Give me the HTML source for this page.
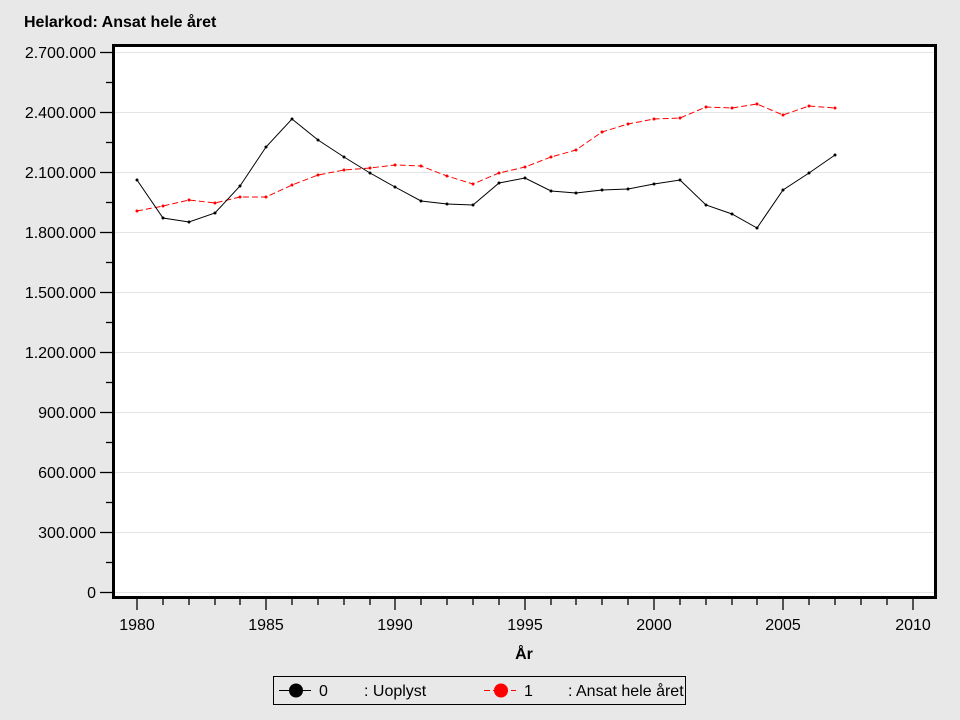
<!DOCTYPE html>
<html><head><meta charset="utf-8"><style>
html,body{margin:0;padding:0;background:#e8e8e8;}
svg{display:block;font-family:"Liberation Sans",Arial,sans-serif;}
</style></head><body>
<svg width="960" height="720" viewBox="0 0 960 720" xmlns="http://www.w3.org/2000/svg">
<rect width="960" height="720" fill="#e8e8e8"/>
<text x="24" y="27" font-size="16" font-weight="bold" fill="#000">Helarkod: Ansat hele året</text>
<rect x="113.5" y="45.5" width="822" height="552" fill="#fff"/>
<g stroke="#e4e4e4" stroke-width="1">
<line x1="115" x2="934" y1="52.5" y2="52.5"/><line x1="115" x2="934" y1="112.5" y2="112.5"/><line x1="115" x2="934" y1="172.5" y2="172.5"/><line x1="115" x2="934" y1="232.5" y2="232.5"/><line x1="115" x2="934" y1="292.5" y2="292.5"/><line x1="115" x2="934" y1="352.5" y2="352.5"/><line x1="115" x2="934" y1="412.5" y2="412.5"/><line x1="115" x2="934" y1="472.5" y2="472.5"/><line x1="115" x2="934" y1="532.5" y2="532.5"/><line x1="115" x2="934" y1="592.5" y2="592.5"/>
</g>
<g stroke="#000" stroke-width="1.3">
<line x1="100" x2="112" y1="52.5" y2="52.5"/><line x1="106" x2="112" y1="82.5" y2="82.5"/>
<line x1="100" x2="112" y1="112.5" y2="112.5"/><line x1="106" x2="112" y1="142.5" y2="142.5"/>
<line x1="100" x2="112" y1="172.5" y2="172.5"/><line x1="106" x2="112" y1="202.5" y2="202.5"/>
<line x1="100" x2="112" y1="232.5" y2="232.5"/><line x1="106" x2="112" y1="262.5" y2="262.5"/>
<line x1="100" x2="112" y1="292.5" y2="292.5"/><line x1="106" x2="112" y1="322.5" y2="322.5"/>
<line x1="100" x2="112" y1="352.5" y2="352.5"/><line x1="106" x2="112" y1="382.5" y2="382.5"/>
<line x1="100" x2="112" y1="412.5" y2="412.5"/><line x1="106" x2="112" y1="442.5" y2="442.5"/>
<line x1="100" x2="112" y1="472.5" y2="472.5"/><line x1="106" x2="112" y1="502.5" y2="502.5"/>
<line x1="100" x2="112" y1="532.5" y2="532.5"/><line x1="106" x2="112" y1="562.5" y2="562.5"/>
<line x1="100" x2="112" y1="592.5" y2="592.5"/>
</g>
<g font-size="16" fill="#000" text-anchor="end">
<text x="96" y="58">2.700.000</text><text x="96" y="118">2.400.000</text><text x="96" y="178">2.100.000</text><text x="96" y="238">1.800.000</text><text x="96" y="298">1.500.000</text><text x="96" y="358">1.200.000</text><text x="96" y="418">900.000</text><text x="96" y="478">600.000</text><text x="96" y="538">300.000</text><text x="96" y="598">0</text>
</g>
<g stroke="#000" stroke-width="1.3">
<line x1="137" x2="137" y1="599" y2="610"/><line x1="163" x2="163" y1="599" y2="605"/><line x1="189" x2="189" y1="599" y2="605"/><line x1="215" x2="215" y1="599" y2="605"/><line x1="240" x2="240" y1="599" y2="605"/>
<line x1="266" x2="266" y1="599" y2="610"/><line x1="292" x2="292" y1="599" y2="605"/><line x1="318" x2="318" y1="599" y2="605"/><line x1="344" x2="344" y1="599" y2="605"/><line x1="370" x2="370" y1="599" y2="605"/>
<line x1="395" x2="395" y1="599" y2="610"/><line x1="421" x2="421" y1="599" y2="605"/><line x1="447" x2="447" y1="599" y2="605"/><line x1="473" x2="473" y1="599" y2="605"/><line x1="499" x2="499" y1="599" y2="605"/>
<line x1="525" x2="525" y1="599" y2="610"/><line x1="551" x2="551" y1="599" y2="605"/><line x1="576" x2="576" y1="599" y2="605"/><line x1="602" x2="602" y1="599" y2="605"/><line x1="628" x2="628" y1="599" y2="605"/>
<line x1="654" x2="654" y1="599" y2="610"/><line x1="680" x2="680" y1="599" y2="605"/><line x1="706" x2="706" y1="599" y2="605"/><line x1="732" x2="732" y1="599" y2="605"/><line x1="757" x2="757" y1="599" y2="605"/>
<line x1="783" x2="783" y1="599" y2="610"/><line x1="809" x2="809" y1="599" y2="605"/><line x1="835" x2="835" y1="599" y2="605"/><line x1="861" x2="861" y1="599" y2="605"/><line x1="887" x2="887" y1="599" y2="605"/>
<line x1="913" x2="913" y1="599" y2="610"/>
</g>
<g font-size="16" fill="#000" text-anchor="middle">
<text x="137" y="630">1980</text><text x="266" y="630">1985</text><text x="395" y="630">1990</text><text x="525" y="630">1995</text><text x="654" y="630">2000</text><text x="783" y="630">2005</text><text x="913" y="630">2010</text>
</g>
<text x="524" y="659" font-size="16" font-weight="bold" text-anchor="middle">År</text>
<polyline fill="none" stroke="#f00" stroke-width="1" stroke-dasharray="6,3" points="137,211 163,206 189,200 215,203 240,197 266,197 292,185 318,175 344,170 370,168 395,165 421,166 447,176 473,184 499,173 525,167 551,157 576,150 602,132 628,124 654,119 680,118 706,107 732,108 757,104 783,115 809,106 835,108"/>
<g fill="#f00"><circle cx="137" cy="211" r="1.5"/><circle cx="163" cy="206" r="1.5"/><circle cx="189" cy="200" r="1.5"/><circle cx="215" cy="203" r="1.5"/><circle cx="240" cy="197" r="1.5"/><circle cx="266" cy="197" r="1.5"/><circle cx="292" cy="185" r="1.5"/><circle cx="318" cy="175" r="1.5"/><circle cx="344" cy="170" r="1.5"/><circle cx="370" cy="168" r="1.5"/><circle cx="395" cy="165" r="1.5"/><circle cx="421" cy="166" r="1.5"/><circle cx="447" cy="176" r="1.5"/><circle cx="473" cy="184" r="1.5"/><circle cx="499" cy="173" r="1.5"/><circle cx="525" cy="167" r="1.5"/><circle cx="551" cy="157" r="1.5"/><circle cx="576" cy="150" r="1.5"/><circle cx="602" cy="132" r="1.5"/><circle cx="628" cy="124" r="1.5"/><circle cx="654" cy="119" r="1.5"/><circle cx="680" cy="118" r="1.5"/><circle cx="706" cy="107" r="1.5"/><circle cx="732" cy="108" r="1.5"/><circle cx="757" cy="104" r="1.5"/><circle cx="783" cy="115" r="1.5"/><circle cx="809" cy="106" r="1.5"/><circle cx="835" cy="108" r="1.5"/></g>
<polyline fill="none" stroke="#000" stroke-width="1" points="137,180 163,218 189,222 215,213 240,186 266,147 292,119 318,140 344,157 370,173 395,187 421,201 447,204 473,205 499,183 525,178 551,191 576,193 602,190 628,189 654,184 680,180 706,205 732,214 757,228 783,190 809,173 835,155"/>
<g fill="#000"><circle cx="137" cy="180" r="1.5"/><circle cx="163" cy="218" r="1.5"/><circle cx="189" cy="222" r="1.5"/><circle cx="215" cy="213" r="1.5"/><circle cx="240" cy="186" r="1.5"/><circle cx="266" cy="147" r="1.5"/><circle cx="292" cy="119" r="1.5"/><circle cx="318" cy="140" r="1.5"/><circle cx="344" cy="157" r="1.5"/><circle cx="370" cy="173" r="1.5"/><circle cx="395" cy="187" r="1.5"/><circle cx="421" cy="201" r="1.5"/><circle cx="447" cy="204" r="1.5"/><circle cx="473" cy="205" r="1.5"/><circle cx="499" cy="183" r="1.5"/><circle cx="525" cy="178" r="1.5"/><circle cx="551" cy="191" r="1.5"/><circle cx="576" cy="193" r="1.5"/><circle cx="602" cy="190" r="1.5"/><circle cx="628" cy="189" r="1.5"/><circle cx="654" cy="184" r="1.5"/><circle cx="680" cy="180" r="1.5"/><circle cx="706" cy="205" r="1.5"/><circle cx="732" cy="214" r="1.5"/><circle cx="757" cy="228" r="1.5"/><circle cx="783" cy="190" r="1.5"/><circle cx="809" cy="173" r="1.5"/><circle cx="835" cy="155" r="1.5"/></g>
<rect x="113.5" y="45.5" width="822" height="552" fill="none" stroke="#000" stroke-width="3"/>
<rect x="273.5" y="676.5" width="412" height="28" fill="none" stroke="#000" stroke-width="1"/>
<line x1="279" x2="311" y1="690.5" y2="690.5" stroke="#000" stroke-width="1"/>
<circle cx="296" cy="690.5" r="7" fill="#000"/>
<text x="319" y="696" font-size="16">0</text>
<text x="364" y="696" font-size="16">: Uoplyst</text>
<line x1="484" x2="516" y1="690.5" y2="690.5" stroke="#f00" stroke-width="1" stroke-dasharray="6,3"/>
<circle cx="501" cy="690.5" r="7" fill="#f00"/>
<text x="524" y="696" font-size="16">1</text>
<text x="568" y="696" font-size="16">: Ansat hele året</text>
</svg>
</body></html>
